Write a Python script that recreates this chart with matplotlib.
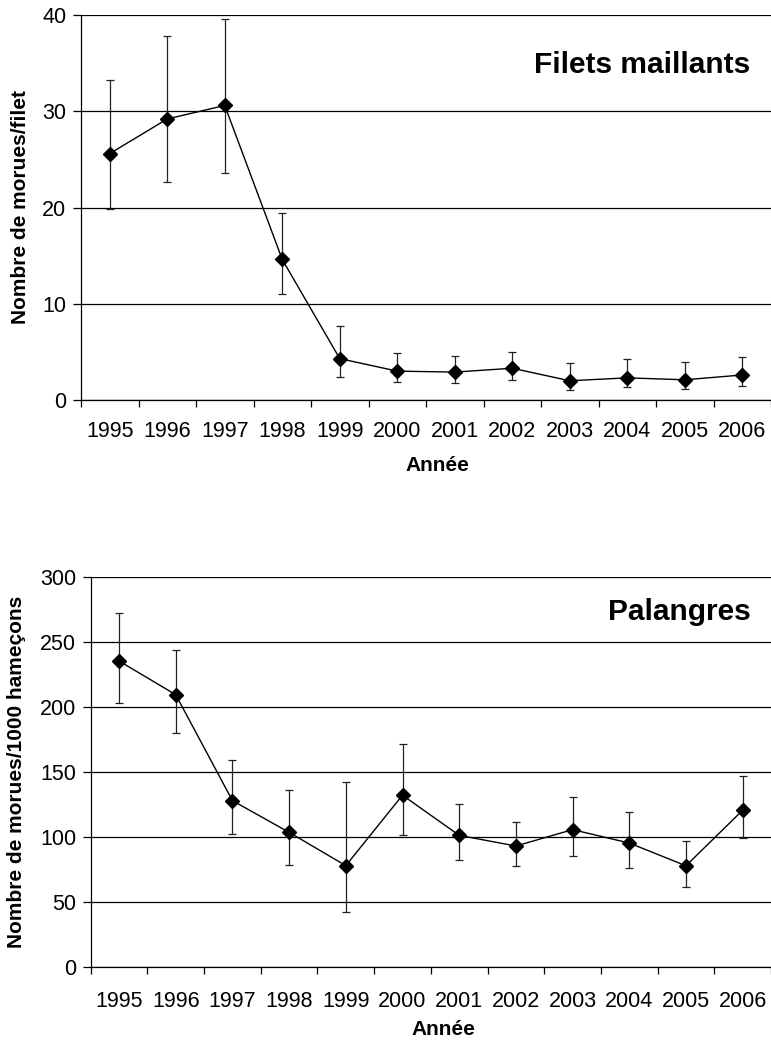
import matplotlib.pyplot as plt
import numpy as np

plt.rcParams['font.family'] = ['Liberation Sans', 'DejaVu Sans']

years = ['1995', '1996', '1997', '1998', '1999', '2000',
         '2001', '2002', '2003', '2004', '2005', '2006']

# Filets maillants (morues/filet)
filets = [25.6, 29.2, 30.6, 14.6, 4.3, 3.0, 2.9, 3.3, 2.0, 2.3, 2.1, 2.6]
filets_hi = [33.2, 37.8, 39.6, 19.4, 7.7, 4.85, 4.6, 5.0, 3.8, 4.3, 4.0, 4.5]
filets_lo = [19.8, 22.6, 23.6, 11.0, 2.4, 1.85, 1.75, 2.1, 1.0, 1.3, 1.1, 1.5]

# Palangres (morues/1000 hamecons)
palangres = [235.6, 209.7, 128.2, 103.8, 78.2, 132.4, 101.5, 93.3, 105.9, 95.6, 78.1, 120.8]
palangres_hi = [272.8, 244.1, 159.5, 136.7, 142.8, 172.0, 125.4, 111.8, 130.8, 119.5, 97.4, 147.0]
palangres_lo = [203.3, 180.0, 102.6, 78.7, 42.8, 101.5, 82.5, 77.9, 85.6, 76.3, 61.7, 99.2]


def draw(ax, vals, hi, lo, ymax, ystep, title, ylabel, title_y, ylab_x, xlab_xy, xpad):
    x = np.arange(len(years))
    vals = np.array(vals)
    err = [vals - np.array(lo), np.array(hi) - vals]
    ax.errorbar(x, vals, yerr=err, fmt='-', color='black', lw=1.0,
                elinewidth=0.9, ecolor='#222222', capsize=2.7, capthick=0.9, zorder=3)
    ax.plot(x, vals, 'D', color='black', ms=6.8, zorder=4)

    ax.set_xlim(-0.5, len(years) - 0.5)
    ax.set_ylim(0, ymax)
    ax.set_yticks(np.arange(0, ymax + 1, ystep))
    ax.yaxis.grid(True, color='black', lw=0.9)
    ax.set_axisbelow(True)

    ax.set_xticks(x)
    ax.set_xticklabels(years)
    ax.set_xticks(np.arange(-0.5, len(years)), minor=True)
    ax.tick_params(axis='x', which='major', length=0, pad=xpad, labelsize=15.5)
    ax.tick_params(axis='x', which='minor', length=5, width=0.9, direction='out')
    ax.tick_params(axis='y', length=5.5, width=0.9, pad=5, labelsize=15.5)

    for s in ['top', 'right']:
        ax.spines[s].set_visible(False)
    ax.spines['left'].set_linewidth(0.9)
    ax.spines['bottom'].set_linewidth(0.9)

    ax.set_ylabel(ylabel, fontsize=15, fontweight='bold')
    ax.yaxis.set_label_coords(ylab_x, 0.5)
    ax.set_xlabel('Année', fontsize=15, fontweight='bold')
    ax.xaxis.set_label_coords(*xlab_xy)
    ax.text(0.97, title_y, title, transform=ax.transAxes, ha='right', va='center',
            fontsize=21.5, fontweight='bold')


fig = plt.figure(figsize=(7.71, 10.44), dpi=100)

ax1 = fig.add_axes([81 / 771, 644 / 1044, 690 / 771, 385 / 1044])
draw(ax1, filets, filets_hi, filets_lo, 40, 10, 'Filets maillants',
     'Nombre de morues/filet', 0.87, -0.074, (0.517, -0.145), 15)

ax2 = fig.add_axes([90.7 / 771, 76.7 / 1044, 680.3 / 771, 390 / 1044])
draw(ax2, palangres, palangres_hi, palangres_lo, 300, 50, 'Palangres',
     'Nombre de morues/1000 hameçons', 0.911, -0.095, (0.518, -0.135), 17)

fig.savefig('out.png', dpi=100)
